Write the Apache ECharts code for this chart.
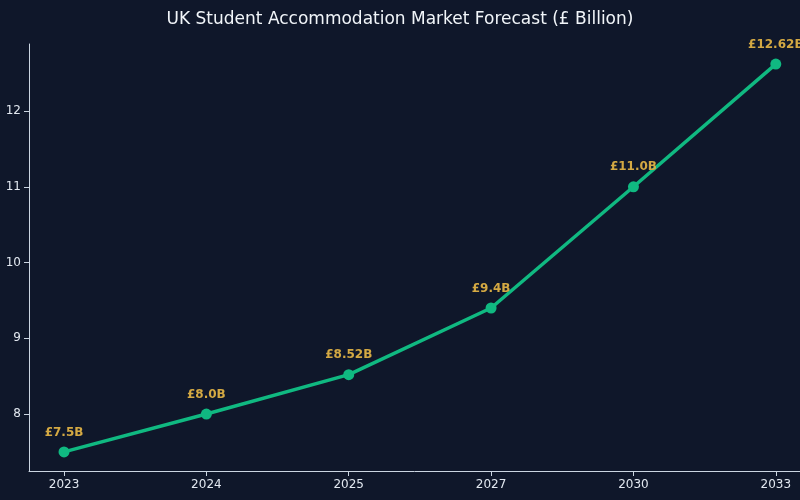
<!DOCTYPE html><html><head><meta charset="utf-8"><script src="https://cdn.jsdelivr.net/npm/echarts@6/dist/echarts.min.js"></script></head><body style="margin:0;background:#0f172a"><div id="c" style="width:800px;height:500px"></div><script>
const categories=['2023','2024','2025','2027','2030','2033'];
const values=[7.5,8.0,8.52,9.4,11.0,12.62];
const labels=['£7.5B','£8.0B','£8.52B','£9.4B','£11.0B','£12.62B'];
const yTicks=[8,9,10,11,12];
const ch=echarts.init(document.getElementById('c'));
const ax={color:'#cbd5e1'};
ch.setOption({backgroundColor:'#0f172a',animation:false,
title:{text:'UK Student Accommodation Market Forecast (£ Billion)',left:'center',top:6,textStyle:{color:'#f1f5f9',fontSize:17,fontWeight:'normal',fontFamily:'DejaVu Sans'}},
grid:{left:29,right:0,top:44,bottom:29},
xAxis:{type:'value',min:-0.246,max:5.17,axisLine:{onZero:false,lineStyle:ax},splitLine:{show:false},
 axisTick:{customValues:[0,1,2,3,4,5],lineStyle:ax},axisLabel:{customValues:[0,1,2,3,4,5],color:'#e2e8f0',fontSize:12,fontFamily:'DejaVu Sans',formatter:v=>categories[Math.round(v)]}},
yAxis:{type:'value',min:7.248,max:12.885,axisLine:{show:true,onZero:false,lineStyle:ax},splitLine:{show:false},
 axisTick:{show:true,customValues:yTicks,lineStyle:ax},axisLabel:{customValues:yTicks,color:'#e2e8f0',fontSize:12,fontFamily:'DejaVu Sans'}},
series:[{type:'line',data:values.map((v,i)=>[i,v]),symbol:'circle',symbolSize:11,
 lineStyle:{color:'#10b981',width:3.5},itemStyle:{color:'#10b981'},
 label:{show:true,position:'top',distance:8,color:'#d4a943',fontWeight:'bold',fontSize:12,fontFamily:'DejaVu Sans',formatter:p=>labels[p.dataIndex]}}]});
</script></body></html>
